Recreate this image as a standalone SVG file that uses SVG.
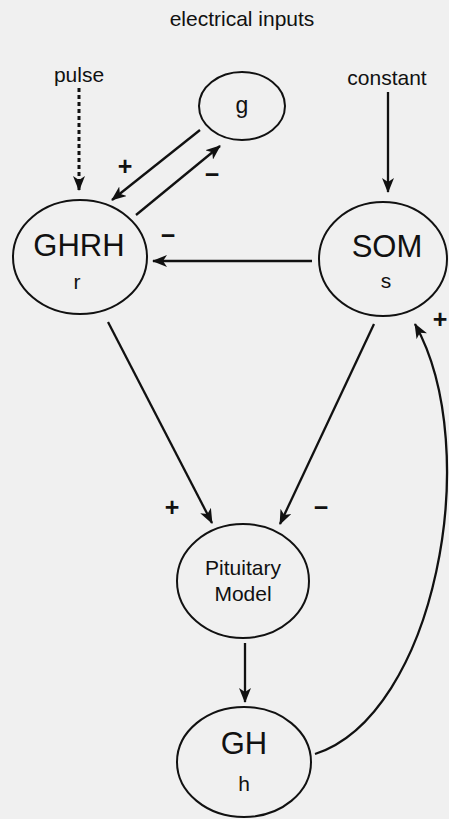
<svg xmlns="http://www.w3.org/2000/svg" width="449" height="819" viewBox="0 0 449 819">
<style>
.node ellipse{fill:none;stroke:#111;stroke-width:2}
text{font-family:"Liberation Sans",Arial,sans-serif;fill:#111;text-anchor:middle}
.lbl{font-size:21px}
.big{font-size:31px}
.sub{font-size:21px}
.sign{font-size:25px;font-weight:bold}
.conn line,.conn path{stroke:#111;stroke-width:2.3;fill:none;marker-end:url(#arr)}
</style>
<defs>
<marker id="arr" viewBox="0 0 15 12" refX="14" refY="6" markerWidth="15" markerHeight="12" markerUnits="userSpaceOnUse" orient="auto">
<path d="M0,0 L15,6 L0,12 L4,6 Z" fill="#111"/>
</marker>
</defs>
<rect width="449" height="819" fill="#f0f0f0"/>
<text class="lbl" x="242" y="26">electrical inputs</text>
<text class="lbl" x="79" y="82">pulse</text>
<text class="lbl" x="387" y="85">constant</text>
<g id="g-node" class="node"><ellipse cx="242" cy="106" rx="43" ry="34"/><text x="242" y="113" style="font-size:23px">g</text></g>
<g id="ghrh" class="node"><ellipse cx="80" cy="257" rx="67" ry="57"/><text class="big" x="79" y="256">GHRH</text><text class="sub" x="77" y="289">r</text></g>
<g id="som" class="node"><ellipse cx="383" cy="259" rx="64" ry="57"/><text class="big" x="387" y="257">SOM</text><text class="sub" x="386" y="288">s</text></g>
<g id="pituitary" class="node"><ellipse cx="243" cy="581" rx="66" ry="57"/><text class="lbl" x="243" y="575">Pituitary</text><text class="lbl" x="243" y="601">Model</text></g>
<g id="gh" class="node"><ellipse cx="244" cy="762" rx="67" ry="55"/><text class="big" x="244" y="754">GH</text><text class="sub" x="244" y="791">h</text></g>
<g id="connectors" class="conn">
<line x1="79" y1="88" x2="79" y2="190" stroke-dasharray="4 3" style="stroke-width:3"/>
<line x1="388" y1="92" x2="388" y2="192"/>
<line x1="200" y1="130" x2="112" y2="200"/>
<line x1="136" y1="215" x2="220" y2="146"/>
<line x1="312" y1="261" x2="153" y2="261"/>
<line x1="108" y1="322" x2="212" y2="523"/>
<line x1="374" y1="324" x2="280" y2="524"/>
<line x1="245" y1="643" x2="245" y2="702"/>
<path d="M315,754 C435,715 485,450 415,324"/>
</g>
<g id="signs">
<text class="sign" x="125" y="175">+</text>
<text class="sign" x="212" y="183">−</text>
<text class="sign" x="168" y="244">−</text>
<text class="sign" x="172" y="516">+</text>
<text class="sign" x="321" y="516">−</text>
<text class="sign" x="440" y="328">+</text>
</g>
</svg>
